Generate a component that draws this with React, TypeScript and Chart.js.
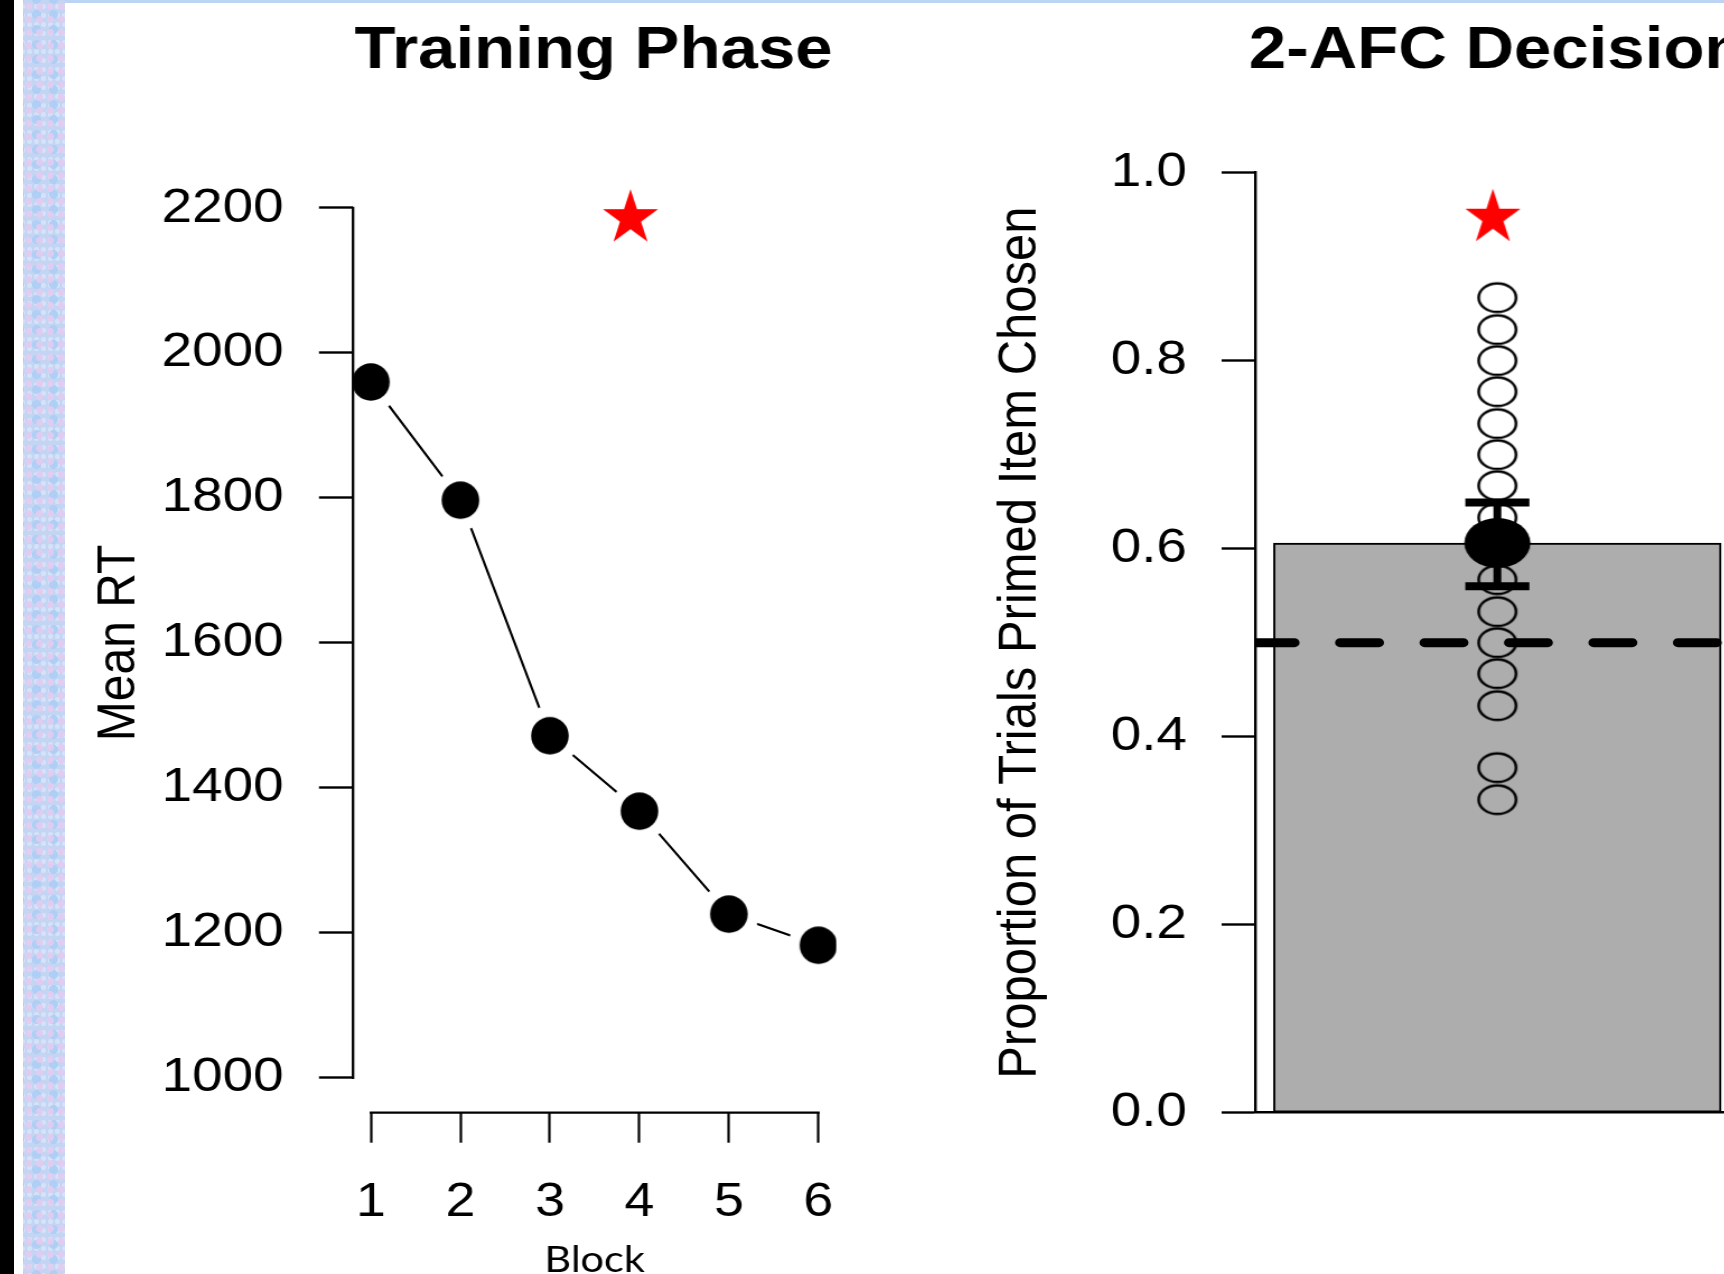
import React, { useEffect, useRef } from 'react';
import { Chart, registerables } from 'chart.js';

Chart.register(...registerables);

// ---------------- data ----------------
const blocks = [1, 2, 3, 4, 5, 6];
const meanRT = [1960, 1797, 1472, 1368, 1226, 1183];
const rtTicks = [1000, 1200, 1400, 1600, 1800, 2000, 2200];
const trainingStar = [3.9, 2186]; // [block, RT]

const primedMean = [0.606];
const primedCI = [0.56, 0.649];
const participantProps = [0.867, 0.833, 0.8, 0.767, 0.733, 0.7, 0.667, 0.633, 0.6, 0.567, 0.533, 0.5, 0.467, 0.433, 0.367, 0.333];
const chanceLevel = [0.5];
const propTicks = [0, 0.2, 0.4, 0.6, 0.8, 1.0];
const afcStar = [0.69, 0.952];
const barSpan = [0.2, 1.2]; // bar extent in barplot units (width 1, space 0.2)

// ---------------- styling / layout ----------------
const SX = 1.12; // horizontal stretch of the original figure
const FONT = "'Liberation Sans', Arial, Helvetica, sans-serif";
Chart.defaults.font.family = FONT;
Chart.defaults.color = '#000';

function ellipseImg(rx: number, ry: number, o: { fill?: string; stroke?: string; lw?: number; hrx?: number; hry?: number }) {
  const lw = o.lw || 0;
  const w = Math.ceil(Math.max(rx, o.hrx || 0) + lw + 2) * 2;
  const h = Math.ceil(Math.max(ry, o.hry || 0) + lw + 2) * 2;
  const c = document.createElement('canvas');
  c.width = w;
  c.height = h;
  const g = c.getContext('2d')!;
  const cx = w / 2, cy = h / 2;
  if (o.hrx && o.hry) {
    g.fillStyle = '#fff';
    g.beginPath();
    g.ellipse(cx, cy, o.hrx, o.hry, 0, 0, Math.PI * 2);
    g.fill();
  }
  g.beginPath();
  g.ellipse(cx, cy, rx, ry, 0, 0, Math.PI * 2);
  if (o.fill) { g.fillStyle = o.fill; g.fill(); }
  if (o.stroke) { g.lineWidth = lw; g.strokeStyle = o.stroke; g.stroke(); }
  return c;
}

function starImg(R: number, sx: number, color: string) {
  const c = document.createElement('canvas');
  const w = Math.ceil(R * sx + 3) * 2, h = Math.ceil(R + 3) * 2;
  c.width = w; c.height = h;
  const g = c.getContext('2d')!;
  const cx = w / 2, cy = h / 2;
  g.fillStyle = color;
  g.beginPath();
  for (let k = 0; k < 10; k++) {
    const a = -Math.PI / 2 + (k * Math.PI) / 5;
    const r = k % 2 ? R * 0.382 : R;
    const x = cx + r * Math.cos(a) * sx, y = cy + r * Math.sin(a);
    if (k === 0) g.moveTo(x, y); else g.lineTo(x, y);
  }
  g.closePath();
  g.fill();
  return c;
}

const rAxes = {
  id: 'rAxes',
  afterDatasetsDraw(chart: any) {
    const { ctx, chartArea } = chart;
    const x = chart.scales.x, y = chart.scales.y;
    ctx.save();
    ctx.strokeStyle = '#000';
    ctx.lineWidth = 2.3;
    ctx.lineCap = 'square';
    ctx.beginPath();
    ctx.moveTo(chartArea.left, y.getPixelForValue(rtTicks[0]));
    ctx.lineTo(chartArea.left, y.getPixelForValue(rtTicks[rtTicks.length - 1]));
    ctx.moveTo(x.getPixelForValue(blocks[0]), chartArea.bottom);
    ctx.lineTo(x.getPixelForValue(blocks[blocks.length - 1]), chartArea.bottom);
    ctx.stroke();
    ctx.restore();
  },
};

export default function App() {
  const leftRef = useRef<HTMLCanvasElement>(null);
  const rightRef = useRef<HTMLCanvasElement>(null);

  useEffect(() => {
    const dot = ellipseImg(16.8, 18.8, { fill: '#000', hrx: 26.8, hry: 30 });
    const open = ellipseImg(16.7, 14.3, { stroke: '#000', lw: 2.5 });
    const meanDot = ellipseImg(29.5, 25, { fill: '#000' });
    const star = starImg(29, 1 / SX, '#ff0000');

    const rtPad = 0.04 * (rtTicks[rtTicks.length - 1] - rtTicks[0]);
    const blkPad = 0.04 * (blocks[blocks.length - 1] - blocks[0]);
    const barPad = 0.04 * (barSpan[1] - barSpan[0]);
    const xlMin = barSpan[0] - barPad, xlMax = barSpan[1] + barPad;
    const barMid = (barSpan[0] + barSpan[1]) / 2;

    const left = new Chart(leftRef.current!, {
      type: 'line',
      data: {
        datasets: [
          {
            data: blocks.map((b, i) => ({ x: b, y: meanRT[i] })),
            borderColor: '#000',
            borderWidth: 2.2,
            pointStyle: dot as any,
            pointRadius: 18,
            tension: 0,
            order: 2,
          },
          {
            type: 'scatter',
            data: [{ x: trainingStar[0], y: trainingStar[1] }],
            pointStyle: star as any,
            pointRadius: 12,
            order: 1,
          } as any,
        ],
      },
      options: {
        responsive: false,
        animation: false,
        devicePixelRatio: 1,
        events: [],
        layout: { padding: 0 },
        plugins: {
          legend: { display: false },
          tooltip: { enabled: false },
          title: {
            display: true,
            text: 'Training Phase',
            color: '#000',
            font: { family: FONT, size: 60, weight: 'bold' },
            padding: { top: 15.5, bottom: 85.7 },
          },
        },
        scales: {
          x: {
            type: 'linear',
            offset: false,
            min: blocks[0] - blkPad,
            max: blocks[blocks.length - 1] + blkPad,
            afterBuildTicks: (s: any) => { s.ticks = blocks.map((v) => ({ value: v })); },
            afterFit: (s: any) => { s.height = 287.3; },
            ticks: { color: '#000', font: { family: FONT, size: 48 }, padding: 31, autoSkip: false, maxRotation: 0, callback: (v: any) => String(v) },
            grid: { display: true, drawOnChartArea: false, drawTicks: true, tickLength: 30, tickWidth: 2.2, tickColor: '#000' },
            border: { display: false },
            title: { display: true, text: 'Block', color: '#000', font: { family: "Lato, 'Open Sans', sans-serif", size: 37 }, padding: { top: 0, bottom: 117.5 } },
          },
          y: {
            type: 'linear',
            min: rtTicks[0] - rtPad,
            max: rtTicks[rtTicks.length - 1] + rtPad,
            afterBuildTicks: (s: any) => { s.ticks = rtTicks.map((v) => ({ value: v })); },
            afterFit: (s: any) => { s.width = 315.2; },
            ticks: { color: '#000', font: { family: FONT, size: 49 }, padding: 31.5, autoSkip: false, callback: (v: any) => String(v) },
            grid: { display: true, drawOnChartArea: false, drawTicks: true, tickLength: 30.4, tickWidth: 2.4, tickColor: '#000' },
            border: { display: false },
            title: { display: true, text: 'Mean RT', color: '#000', font: { family: FONT, size: 48 }, padding: { top: 77.6, bottom: 0 } },
          },
          y2: {
            type: 'linear',
            position: 'right',
            display: true,
            ticks: { display: false },
            grid: { display: false },
            border: { display: false },
            afterFit: (s: any) => { s.width = 313.3; },
          },
        },
      } as any,
      plugins: [rAxes],
    });

    const right = new Chart(rightRef.current!, {
      type: 'bar',
      data: {
        datasets: [
          {
            type: 'bar',
            data: [{ x: barMid, y: primedMean[0] }],
            xAxisID: 'x',
            yAxisID: 'y',
            backgroundColor: '#adadad',
            borderColor: '#000',
            borderWidth: 2,
            borderSkipped: false,
            grouped: false,
            barThickness: 400,
            order: 10,
          },
          {
            type: 'scatter',
            xAxisID: 'x',
            yAxisID: 'y',
            data: participantProps.map((p) => ({ x: barMid, y: p })),
            pointStyle: open as any,
            pointRadius: 15,
            order: 8,
          },
          {
            type: 'line',
            xAxisID: 'x',
            yAxisID: 'y',
            data: [{ x: xlMin, y: chanceLevel[0] }, { x: xlMax, y: chanceLevel[0] }],
            borderColor: '#000',
            borderWidth: 9,
            borderDash: [34.7, 40.7],
            borderCapStyle: 'round',
            pointRadius: 0,
            order: 6,
          },
          {
            type: 'line',
            xAxisID: 'x',
            yAxisID: 'y',
            data: [{ x: barMid, y: primedCI[0] }, { x: barMid, y: primedCI[1] }],
            borderColor: '#000',
            borderWidth: 7,
            pointStyle: 'line',
            pointRadius: 28.6,
            pointBorderWidth: 8,
            pointBorderColor: '#000',
            order: 4,
          },
          {
            type: 'scatter',
            xAxisID: 'x',
            yAxisID: 'y',
            data: [{ x: barMid, y: primedMean[0] }],
            pointStyle: meanDot as any,
            pointRadius: 24,
            order: 2,
          },
          {
            type: 'scatter',
            xAxisID: 'x',
            yAxisID: 'y',
            data: [{ x: afcStar[0], y: afcStar[1] }],
            pointStyle: star as any,
            pointRadius: 12,
            order: 1,
          },
        ] as any,
      },
      options: {
        responsive: false,
        animation: false,
        devicePixelRatio: 1,
        events: [],
        layout: { padding: { left: 0, right: 0, top: 0, bottom: 161.3 } },
        plugins: {
          legend: { display: false },
          tooltip: { enabled: false },
          title: {
            display: true,
            text: '2-AFC Decision',
            color: '#000',
            font: { family: FONT, size: 60, weight: 'bold' },
            padding: { top: 15.9, bottom: 84.7 },
          },
        },
        scales: {
          x: {
            type: 'linear',
            offset: false,
            min: xlMin,
            max: xlMax,
            display: true,
            ticks: { display: false },
            grid: { display: false, offset: false },
            border: { display: true, color: '#000', width: 2.4 },
            afterFit: (s: any) => { s.height = 0; },
          },
          y: {
            type: 'linear',
            min: propTicks[0],
            max: propTicks[propTicks.length - 1],
            afterBuildTicks: (s: any) => { s.ticks = propTicks.map((v) => ({ value: v })); },
            afterFit: (s: any) => { s.width = 335.4; },
            ticks: { color: '#000', font: { family: FONT, size: 49 }, padding: 30.9, autoSkip: false, callback: (v: any) => Number(v).toFixed(1) },
            grid: { display: true, drawOnChartArea: false, drawTicks: true, tickLength: 30.4, tickWidth: 2.4, tickColor: '#000' },
            border: { display: true, color: '#000', width: 2.4 },
            title: { display: true, text: 'Proportion of Trials Primed Item Chosen', color: '#000', font: { family: FONT, size: 49 }, padding: { top: 95.6, bottom: 0 } },
          },
          y2: {
            type: 'linear',
            position: 'right',
            display: true,
            ticks: { display: false },
            grid: { display: false },
            border: { display: false },
            afterFit: (s: any) => { s.width = 335; },
          },
        },
      } as any,
    });

    // bar width = its extent in data units, measured through the x scale
    const xs: any = right.scales.x;
    (right.data.datasets[0] as any).barThickness = Math.abs(xs.getPixelForValue(barSpan[1]) - xs.getPixelForValue(barSpan[0]));
    right.update('none');

    return () => {
      left.destroy();
      right.destroy();
    };
  }, []);

  const pattern: React.CSSProperties = {
    backgroundColor: '#c4d5f3',
    backgroundImage:
      'radial-gradient(circle, rgba(226,204,240,0.9) 0 3px, transparent 4px), radial-gradient(circle, rgba(172,206,245,0.9) 0 4px, transparent 5px), radial-gradient(circle, rgba(214,228,248,0.9) 0 2px, transparent 3px)',
    backgroundSize: '11px 13px, 17px 15px, 7px 9px',
    backgroundPosition: '0 0, 5px 7px, 3px 2px',
  };

  return (
    <div style={{ position: 'fixed', left: 0, top: 0, width: 1724, height: 1274, overflow: 'hidden', background: '#fff' }}>
      <div style={{ position: 'absolute', left: 0, top: 0, width: 14, height: '100%', background: '#000' }} />
      <div style={{ position: 'absolute', left: 23, top: 0, width: 42, height: '100%', ...pattern }} />
      <div style={{ position: 'absolute', left: 65, top: 0, right: 0, height: 3, background: '#bcd4f4' }} />
      <canvas
        ref={leftRef}
        width={1060}
        height={1400}
        style={{ position: 'absolute', left: 0, top: 0, width: 1060, height: 1400, transform: `scaleX(${SX})`, transformOrigin: '0 0' }}
      />
      <canvas
        ref={rightRef}
        width={1102}
        height={1274}
        style={{ position: 'absolute', left: 880, top: 0, width: 1102, height: 1274, transform: `scaleX(${SX})`, transformOrigin: '0 0' }}
      />
    </div>
  );
}
